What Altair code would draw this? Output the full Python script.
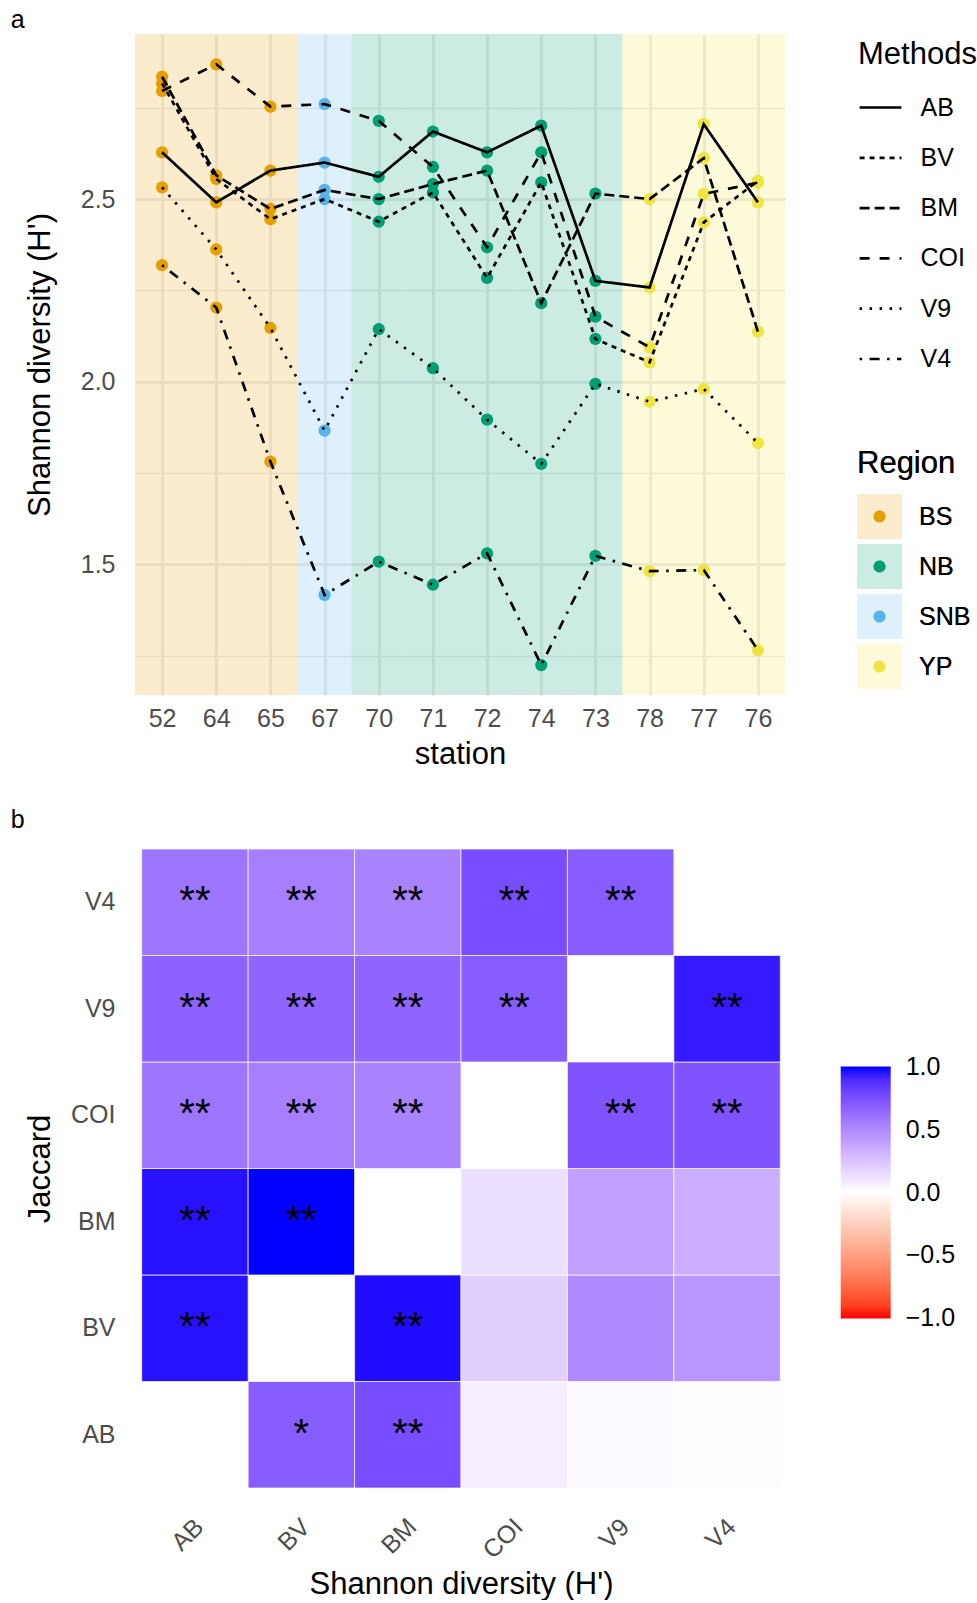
import json
import altair as alt
import pandas as pd

FONT = "Liberation Sans"

# ---------------- panel a data ----------------
stations = ["52", "64", "65", "67", "70", "71", "72", "74", "73", "78", "77", "76"]
station_region = ["BS", "BS", "BS", "SNB", "NB", "NB", "NB", "NB", "NB", "YP", "YP", "YP"]
methods = ["AB", "BV", "BM", "COI", "V9", "V4"]

shannon_AB = [2.628, 2.491, 2.578, 2.600, 2.561, 2.685, 2.628, 2.701, 2.276, 2.258, 2.705, 2.491]
shannon_BV = [2.817, 2.555, 2.445, 2.500, 2.438, 2.518, 2.284, 2.546, 2.117, 2.053, 2.436, 2.550]
shannon_BM = [2.835, 2.565, 2.473, 2.525, 2.500, 2.541, 2.578, 2.215, 2.515, 2.500, 2.612, 2.137]
shannon_COI = [2.796, 2.869, 2.753, 2.760, 2.714, 2.588, 2.368, 2.628, 2.178, 2.094, 2.514, 2.545]
shannon_V9 = [2.532, 2.362, 2.147, 1.866, 2.144, 2.037, 1.896, 1.775, 1.994, 1.945, 1.980, 1.832]
shannon_V4 = [2.319, 2.203, 1.781, 1.416, 1.507, 1.444, 1.530, 1.224, 1.523, 1.481, 1.484, 1.265]

region_names = ["BS", "NB", "SNB", "YP"]
region_colors = ["#E69F00", "#009E73", "#56B4E9", "#F0E442"]
dash_patterns = [[1, 0], [5, 5], [10, 5], [10, 10], [2.5, 7.5], [2.5, 7.5, 10, 7.5]]
y_ticks = [1.25, 1.5, 1.75, 2.0, 2.25, 2.5, 2.75]
y_domain = [1.142, 2.952]

# ---------------- panel b data ----------------
heat_AB = [None, 0.69, 0.76, 0.07, 0.015, -0.01]
heat_BV = [0.97, None, 0.98, 0.20, 0.50, 0.45]
heat_BM = [0.97, 1.00, None, 0.13, 0.40, 0.34]
heat_COI = [0.59, 0.55, 0.53, None, 0.73, 0.73]
heat_V9 = [0.67, 0.66, 0.66, 0.69, None, 0.95]
heat_V4 = [0.59, 0.55, 0.53, 0.76, 0.70, None]

sig_AB = ["", "*", "**", "", "", ""]
sig_BV = ["**", "", "**", "", "", ""]
sig_BM = ["**", "**", "", "", "", ""]
sig_COI = ["**", "**", "**", "", "**", "**"]
sig_V9 = ["**", "**", "**", "**", "", "**"]
sig_V4 = ["**", "**", "**", "**", "**", ""]

colorbar_values = [-1, -0.5, 0, 0.5, 1]
colorbar_domain = [-1.001, 0, 1.001]

# ---------------- tables ----------------
series = {"AB": shannon_AB, "BV": shannon_BV, "BM": shannon_BM,
          "COI": shannon_COI, "V9": shannon_V9, "V4": shannon_V4}
st_df = pd.DataFrame({"station": stations, "idx": list(range(len(stations))),
                      "region": station_region})
rows = []
for m in methods:
    for i, s in enumerate(stations):
        rows.append({"station": s, "idx": i, "region": station_region[i],
                     "method": m, "value": series[m][i]})
long_df = pd.DataFrame(rows)

heat_rows = {"AB": (heat_AB, sig_AB), "BV": (heat_BV, sig_BV), "BM": (heat_BM, sig_BM),
             "COI": (heat_COI, sig_COI), "V9": (heat_V9, sig_V9), "V4": (heat_V4, sig_V4)}
hrows = []
for r in methods:
    vals, sigs = heat_rows[r]
    for j, c in enumerate(methods):
        if vals[j] is None:
            continue
        hrows.append({"row": r, "col": c, "value": vals[j], "label": sigs[j]})
heat_df = pd.DataFrame(hrows)

# ---------------- panel a ----------------
x_scale = alt.Scale(domain=[-0.5, len(stations) - 0.5], nice=False, zero=False)
y_scale = alt.Scale(domain=y_domain, nice=False, zero=False)

x_axis = alt.Axis(
    values=list(range(len(stations))),
    labelExpr=f"{json.dumps(stations)}[datum.value]",
    title="station", grid=True, gridColor="#EBEBEB", gridWidth=3,
    ticks=False, domain=False, labelFlush=False, labelOverlap=False,
    labelFontSize=25, labelColor="#4D4D4D", labelPadding=11,
    titleFontSize=31, titleFontWeight="normal", titleColor="black", titlePadding=8,
)
y_axis = alt.Axis(
    values=y_ticks,
    labelExpr="datum.value % 0.5 == 0 ? format(datum.value, '.1f') : ''",
    title="Shannon diversity (H')", grid=True, gridColor="#EBEBEB",
    gridWidth={"condition": {"test": "datum.value % 0.5 == 0", "value": 3}, "value": 1.5},
    ticks=False, domain=False, labelFlush=False, labelOverlap=False,
    labelFontSize=25, labelColor="#4D4D4D", labelPadding=20,
    titleFontSize=31, titleFontWeight="normal", titleColor="black", titlePadding=23.6,
)

region_legend = dict(title="Region", orient="none", legendX=722, legendY=415,
                     symbolSize=2025, symbolStrokeWidth=0, rowPadding=5, labelOffset=17,
                     labelFontSize=25, labelColor="black", titleFontSize=31,
                     titleFontWeight="normal", titleColor="black", titlePadding=14, padding=0)

bg = alt.Chart(st_df).transform_calculate(
    x0="datum.idx - 0.5", x1="datum.idx + 0.5"
).mark_rect(opacity=0.2).encode(
    x=alt.X("x0:Q", scale=x_scale, axis=x_axis),
    x2="x1:Q",
    fill=alt.Fill("region:N", scale=alt.Scale(domain=region_names, range=region_colors),
                  legend=alt.Legend(symbolType="square", symbolOpacity=0.2, **region_legend)),
)

pts = alt.Chart(long_df).mark_point(filled=True, size=150, opacity=1, strokeWidth=0).encode(
    x=alt.X("idx:Q", scale=x_scale, axis=x_axis),
    y=alt.Y("value:Q", scale=y_scale, axis=y_axis),
    color=alt.Color("region:N", scale=alt.Scale(domain=region_names, range=region_colors),
                    legend=alt.Legend(
                        symbolType="M-1,-1M1,1M-0.27,0A0.27,0.27,0,1,1,0.27,0A0.27,0.27,0,1,1,-0.27,0Z",
                        symbolOpacity=1, **region_legend)),
)

lines = alt.Chart(long_df).mark_line(color="black", strokeWidth=2.7).encode(
    x=alt.X("idx:Q", scale=x_scale, axis=x_axis),
    y=alt.Y("value:Q", scale=y_scale, axis=y_axis),
    strokeDash=alt.StrokeDash("method:N", scale=alt.Scale(domain=methods, range=dash_patterns),
                              legend=alt.Legend(title="Methods", orient="none", legendX=723, legendY=6,
                                                symbolType="stroke", symbolSize=1750,
                                                symbolStrokeWidth=2.7, symbolStrokeColor="black",
                                                rowPadding=14.3, labelOffset=17.5,
                                                labelFontSize=25, labelColor="black",
                                                titleFontSize=31, titleFontWeight="normal",
                                                titleColor="black", titlePadding=14, padding=0)),
    order="idx:Q",
)

top = alt.layer(bg, pts, lines).properties(
    width=650, height=661,
    title=alt.TitleParams("a", anchor="start", frame="bounds", fontSize=25,
                          fontWeight="normal", font=FONT, color="black", dx=-14, offset=1),
)

# ---------------- panel b ----------------
hx = alt.X("col:N", scale=alt.Scale(domain=methods, paddingInner=0, paddingOuter=0.063),
           axis=alt.Axis(title="Shannon diversity (H')", labelAngle=-45, labelAlign="right",
                         labelBaseline="top", labelPadding=26, labelOffset=-4, ticks=False,
                         domain=False, grid=False,
                         labelFontSize=25, labelColor="#4D4D4D", titleFontSize=31,
                         titleFontWeight="normal", titleColor="black", titlePadding=6))
hy = alt.Y("row:N", scale=alt.Scale(domain=methods[::-1], paddingInner=0, paddingOuter=0),
           axis=alt.Axis(title="Jaccard", labelPadding=20, ticks=False, domain=False, grid=False,
                         labelFontSize=25, labelColor="#4D4D4D", titleFontSize=31,
                         titleFontWeight="normal", titleColor="black", titlePadding=13.9))

tiles = alt.Chart(heat_df).mark_rect(stroke="white", strokeWidth=0.7).encode(
    x=hx, y=hy,
    fill=alt.Fill("value:Q",
                  scale=alt.Scale(domain=colorbar_domain, range=["red", "white", "blue"], interpolate="lab"),
                  legend=alt.Legend(title=None, orient="none", legendX=705.7, legendY=217.5,
                                    direction="vertical", gradientLength=252, gradientThickness=50,
                                    gradientStrokeWidth=0, values=colorbar_values, format=".1f",
                                    labelFontSize=25, labelColor="black", labelOffset=15, padding=0,
                                    labelOverlap=False)),
)
stars = alt.Chart(heat_df).transform_filter("datum.label != ''").mark_text(
    fontSize=40, dy=0, font=FONT, color="black"
).encode(x=hx, y=hy, text="label:N")

bottom = alt.layer(tiles, stars).properties(
    width=652, height=639,
    title=alt.TitleParams("b", anchor="start", frame="bounds", fontSize=25,
                          fontWeight="normal", font=FONT, color="black", dx=-14, offset=15.5),
)

chart = alt.vconcat(top, bottom, spacing=39).properties(
    padding={"left": 10, "top": 8, "right": 0, "bottom": 0}
).configure_view(stroke=None).configure_axis(
    labelFont=FONT, titleFont=FONT
).configure_legend(
    labelFont=FONT, titleFont=FONT, padding=0
).configure_title(font=FONT)

chart.save("out.html", embed_options={"renderer": "svg", "actions": False})
